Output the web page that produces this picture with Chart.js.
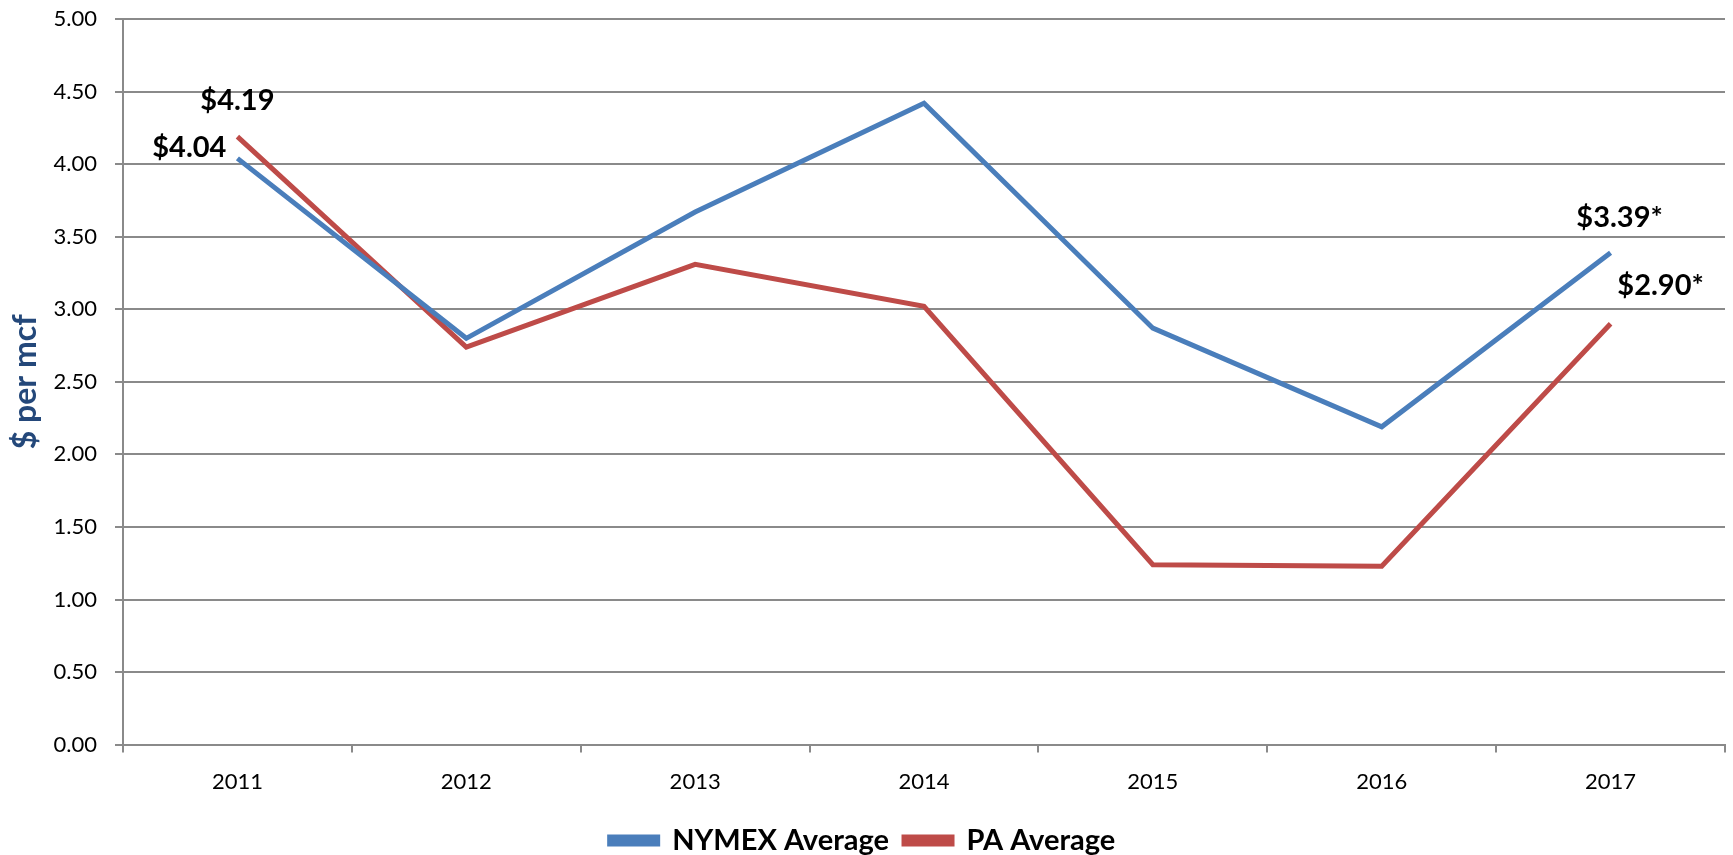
<!DOCTYPE html>
<html lang="en">
<head>
	<meta charset="UTF-8">
	<title>NYMEX vs PA Average</title>
	<script src="https://cdn.jsdelivr.net/npm/chart.js@4/dist/chart.umd.min.js"></script>
	<style>
		html, body { margin: 0; padding: 0; background: #fff; }
		#wrap { width: 1733px; height: 855px; }
	</style>
</head>
<body>
	<div id="wrap"><canvas id="myChart"></canvas></div>

	<script>
		// chart data
		const years = ['2011', '2012', '2013', '2014', '2015', '2016', '2017']
		const nymex = [4.04, 2.80, 3.67, 4.42, 2.87, 2.19, 3.39]
		const paAvg = [4.19, 2.74, 3.31, 3.02, 1.24, 1.23, 2.90]
		const yTicks = [0, 0.5, 1, 1.5, 2, 2.5, 3, 3.5, 4, 4.5, 5]

		// which points get a value label (2017 is an estimate, hence the *)
		const labelled = [
			{ ds: 0, i: 0, suffix: '', dx: -11, dy: -11, align: 'right' },
			{ ds: 1, i: 0, suffix: '', dx: 0, dy: -36, align: 'center' },
			{ ds: 0, i: 6, suffix: '*', dx: 9, dy: -35, align: 'center' },
			{ ds: 1, i: 6, suffix: '*', dx: 50, dy: -38, align: 'center' }
		]

		const gridGrey = '#8a8a8a'

		const valueLabels = {
			id: 'valueLabels',
			afterDatasetsDraw(chart) {
				const ctx = chart.ctx
				ctx.save()
				ctx.font = 'bold 29px Lato'
				ctx.fillStyle = '#000'
				ctx.textBaseline = 'middle'
				labelled.forEach(function(l) {
					const pt = chart.getDatasetMeta(l.ds).data[l.i]
					const v = chart.data.datasets[l.ds].data[l.i]
					ctx.textAlign = l.align
					ctx.fillText('$' + v.toFixed(2) + l.suffix, pt.x + l.dx, pt.y + l.dy)
				})
				ctx.restore()
			}
		}

		var ctx = document.getElementById('myChart').getContext('2d')

		var chart = new Chart(ctx, {
			type: 'line',
			data: {
				labels: years,
				datasets: [{
					label: 'NYMEX Average',
					data: nymex,
					borderColor: '#4a7ebb',
					backgroundColor: '#4a7ebb',
					borderWidth: 5,
					pointRadius: 0,
					tension: 0
				}, {
					label: 'PA Average',
					data: paAvg,
					borderColor: '#be4b48',
					backgroundColor: '#be4b48',
					borderWidth: 5,
					pointRadius: 0,
					tension: 0
				}]
			},
			options: {
				responsive: true,
				maintainAspectRatio: false,
				animation: false,
				layout: { padding: { top: 0, right: 8, left: 0, bottom: -10 } },
				scales: {
					x: {
						offset: true,
						grid: {
							offset: true,
							drawOnChartArea: false,
							drawTicks: true,
							tickLength: 8,
							color: gridGrey,
							lineWidth: 2
						},
						border: { display: true, color: gridGrey, width: 2 },
						ticks: {
							color: '#000',
							font: { family: 'Lato', size: 22 },
							padding: 16,
							maxRotation: 0
						}
					},
					y: {
						min: 0,
						max: 5,
						afterBuildTicks: function(scale) {
							scale.ticks = yTicks.map(v => ({ value: v }))
						},
						afterFit: function(scale) {
							scale.width = 123
						},
						grid: {
							color: gridGrey,
							lineWidth: 2,
							tickLength: 8
						},
						border: { display: true, color: gridGrey, width: 2 },
						ticks: {
							color: '#000',
							// small lineHeight keeps the top label from pushing the plot down
							font: { family: 'Lato', size: 22, lineHeight: 0.1 },
							padding: 18,
							callback: v => v.toFixed(2)
						},
						title: {
							display: true,
							text: '$ per mcf',
							color: '#24487a',
							font: { family: 'Lato', size: 32, weight: 'bold' },
							padding: { top: 6, bottom: 0 }
						}
					}
				},
				plugins: {
					legend: {
						position: 'bottom',
						labels: {
							color: '#000',
							font: { family: 'Lato', size: 29, weight: 'bold' },
							boxWidth: 48,
							boxHeight: 7,
							padding: 15
						}
					},
					tooltip: { enabled: false }
				}
			},
			plugins: [valueLabels]
		})
	</script>
</body>
</html>
